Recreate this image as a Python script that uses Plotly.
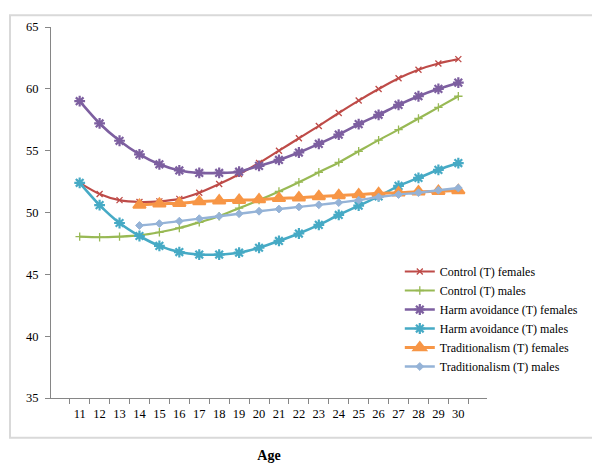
import plotly.graph_objects as go

ages = [str(a) for a in range(11, 31)]

control_f = [52.4, 51.5, 51.0, 50.85, 50.9, 51.1, 51.6, 52.3, 53.1, 54.0,
             55.0, 56.0, 57.0, 58.05, 59.05, 59.98, 60.85, 61.55, 62.05, 62.4]
control_m = [48.05, 48.0, 48.05, 48.15, 48.4, 48.75, 49.2, 49.7, 50.35, 51.0,
             51.7, 52.45, 53.25, 54.05, 54.95, 55.85, 56.7, 57.6, 58.5, 59.4]
harm_f = [59.0, 57.2, 55.8, 54.7, 53.9, 53.4, 53.2, 53.2, 53.3, 53.77,
          54.25, 54.85, 55.55, 56.3, 57.15, 57.9, 58.7, 59.4, 60.0, 60.5]
harm_m = [52.4, 50.6, 49.15, 48.1, 47.3, 46.8, 46.6, 46.6, 46.75, 47.15,
          47.7, 48.3, 49.0, 49.8, 50.55, 51.3, 52.15, 52.8, 53.45, 54.0]
trad_f = [None, None, None, 50.6, 50.7, 50.75, 50.88, 50.95, 51.0, 51.05,
          51.15, 51.2, 51.3, 51.38, 51.45, 51.55, 51.6, 51.68, 51.72, 51.78]
trad_m = [None, None, None, 48.95, 49.1, 49.3, 49.5, 49.7, 49.9, 50.1,
          50.28, 50.45, 50.62, 50.8, 51.0, 51.25, 51.45, 51.6, 51.8, 51.98]

names = ["Control (T) females", "Control (T) males", "Harm avoidance (T) females",
         "Harm avoidance (T) males", "Traditionalism (T) females", "Traditionalism (T) males"]
series = [control_f, control_m, harm_f, harm_m, trad_f, trad_m]
colors = ["#BE4B48", "#98B954", "#7D5FA0", "#46AAC5", "#F79646", "#95B3D7"]
styles = [
    dict(symbol="x-thin-open", size=6, line=dict(width=1.3, color=colors[0])),
    dict(symbol="cross-thin-open", size=6, line=dict(width=1.3, color=colors[1])),
    dict(symbol="asterisk-open", size=9, line=dict(width=2.2, color=colors[2])),
    dict(symbol="asterisk-open", size=9, line=dict(width=2.2, color=colors[3])),
    dict(symbol="triangle-up", size=11, color=colors[4], line=dict(width=2, color=colors[4])),
    dict(symbol="diamond", size=6, color=colors[5], line=dict(width=1, color=colors[5])),
]
widths = [2.2, 2.2, 2.6, 2.6, 3.0, 2.4]

fig = go.Figure()
for name, vals, col, mk, w in zip(names, series, colors, styles, widths):
    fig.add_trace(go.Scatter(
        x=ages, y=vals, name=name, mode="lines+markers",
        line=dict(color=col, width=w, shape="spline", smoothing=0.8),
        marker=mk, connectgaps=False,
    ))

font = dict(family="Liberation Serif", size=12, color="#000000")
tfont = dict(family="Liberation Serif", size=12.5, color="#000000")

fig.update_layout(
    width=600, height=465,
    margin=dict(l=43, r=121, t=14, b=69),
    paper_bgcolor="white", plot_bgcolor="white",
    font=font,
    showlegend=True,
    legend=dict(x=0.80, y=0.38, xanchor="left", yanchor="top",
                bgcolor="rgba(0,0,0,0)", font=font, tracegroupgap=0,
                itemwidth=30),
    shapes=[dict(type="rect", xref="paper", yref="paper",
                 x0=(2 - 43) / 436, x1=(597 - 43) / 436,
                 y0=(396 - 437) / 382, y1=(396 - 2) / 382,
                 line=dict(color="#D9D9D9", width=2), layer="below")],
)
fig.update_xaxes(
    type="category", showgrid=False, showline=True, linecolor="#868686", linewidth=1,
    ticks="outside", tickson="boundaries", ticklen=5, tickcolor="#868686",
    tickfont=tfont, zeroline=False, tickangle=0, ticklabelstandoff=4,
    title=dict(text="<b>Age</b>", font=dict(family="Liberation Serif", size=14, color="#000"),
               standoff=30),
)
fig.update_yaxes(
    range=[35, 65], dtick=5, showgrid=False, showline=True, linecolor="#868686", linewidth=1,
    ticks="outside", ticklen=5, tickcolor="#868686", tickfont=tfont, zeroline=False,
    ticklabelstandoff=4,
)

fig.write_html("out.html")
